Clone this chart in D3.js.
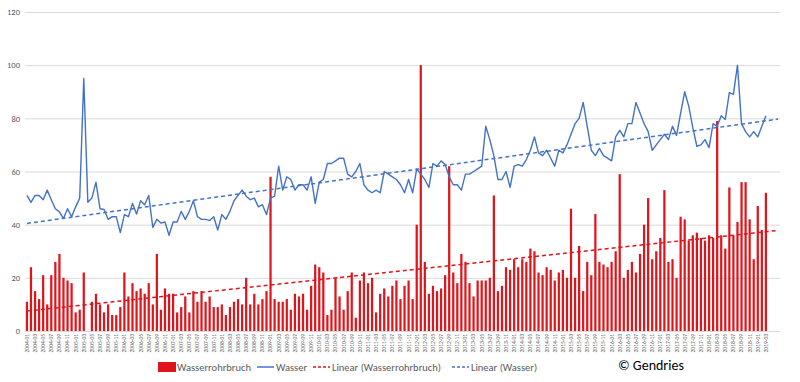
<!DOCTYPE html>
<html>
<head>
<meta charset="utf-8">
<script src="https://cdn.jsdelivr.net/npm/d3@7"></script>
<style>
  body { margin: 0; background: #fff; }
  text { font-family: Carlito, "Liberation Sans Narrow", Lato, sans-serif; }
</style>
</head>
<body>
<svg width="800" height="382"></svg>
<script>
// monthly counts, starting 2004-01
var wasserrohrbruch = [
  11,24,15,12,21,10,21,26,29,20,19,18,7,8,22,
  0,11,14,10,7,10,6,6,9,22,13,18,15,16,14,18,10,29,8,16,14,14,7,9,13,7,15,11,
  15,11,13,9,9,10,6,9,11,12,10,20,10,14,10,12,
  15,58,12,11,11,12,8,14,13,14,8,17,25,24,22,6,8,20,13,8,15,22,5,19,22,18,20,7,14,16,
  13,17,19,12,17,19,12,40,100,26,14,17,15,16,21,62,22,18,29,26,18,13,19,19,19,20,51,15,17,24,
  23,27,24,27,
  26,31,30,22,21,24,23,19,22,23,20,46,20,32,15,26,21,44,26,25,24,26,30,59,20,23,26,22,29,40,
  50,27,30,35,53,26,27,20,43,42,34,36,37,35,34,36,35,79,36,31,54,36,41,56,56,42,27,47,38,52
];
var wasser = [
  51,48.4,51,51,49.4,53,49.4,46,44.8,42.3,46,43,46.7,50,95,48.4,50,56,46,45.7,
  42,43,43,37,43.8,43,48,44,49,47.5,51,39,42,40.6,41,36,41,41,45,42,
  45,49,43,42,42,41.6,43,38,43.8,42,45,49,51,53,50.7,49.4,50,46.7,47.5,
  43.8,50,50.7,62,53,58,57,53,55,55,53,58,48,56,57,63,63,64,65,65,
  59,58,60,63,55,53,52,53,52,60,59,58,57,55,52,57,52,61,59,57,
  54,63,62,64,62.6,58,55,55,53,59,59,60,61,62,77,72,66,57,57,60,
  54,62,62.6,62,64.5,
  68,73,67,66,68,65,62,68,67,70,74,78,80,86,77,68,66,
  68.7,66,65,64,73,75.5,73,78,78,86,82,78,75,68,70,72,74,72,77,73.6,
  82,90,84.6,76.5,69.5,70,72,69,78,77,81,79.6,89.7,89,100,78,75,73,75,73,
  77,81
];
var startYear = 2004;
var emptyCats = 3;        // blank categories after the last month
var yTicks = [0, 20, 40, 60, 80, 100, 120];
var seriesNames = ["Wasserrohrbruch", "Wasser", "Linear (Wasserrohrbruch)", "Linear (Wasser)"];
var credit = "© Gendries";

var svg = d3.select("svg");
var red = "#e0141b", blue = "#4472c4", grey = "#595959";

var months = wasser.map(function (d, i) {
  return (startYear + Math.floor(i / 12)) + "-" + d3.format("02")(i % 12 + 1);
});
var cats = d3.range(months.length + emptyCats);

var x = d3.scaleBand().domain(cats).range([25, 780]).paddingInner(0.45).paddingOuter(0.2);
var y = d3.scaleLinear().domain([0, 120]).range([331, 12]);
var cx = function (i) { return x(i) + x.bandwidth() / 2; };

// gridlines
svg.append("g").selectAll("line")
  .data(yTicks)
  .enter().append("line")
  .attr("x1", 25).attr("x2", 780)
  .attr("y1", function (d) { return y(d) + 0.5; })
  .attr("y2", function (d) { return y(d) + 0.5; })
  .attr("stroke", "#d9d9d9").attr("stroke-width", 1);

// y labels
var yAxis = svg.append("g")
  .attr("transform", "translate(23,0)")
  .call(d3.axisLeft(y).tickValues(yTicks).tickSize(0).tickPadding(3));
yAxis.select(".domain").remove();
yAxis.selectAll("text").attr("fill", grey).style("font-size", "8.5px");

// x labels every 2nd month
var xAxis = svg.append("g")
  .attr("transform", "translate(0,331)")
  .call(d3.axisBottom(x)
    .tickValues(cats.filter(function (i) { return i < months.length && i % 2 === 0; }))
    .tickFormat(function (i) { return months[i]; })
    .tickSize(0).tickPadding(2));
xAxis.select(".domain").attr("stroke", "#d9d9d9");
xAxis.selectAll("text")
  .attr("fill", grey).style("font-size", "5.5px")
  .attr("text-anchor", "end")
  .attr("transform", "rotate(-90)")
  .attr("x", -3).attr("y", 0).attr("dy", "0.35em");

// bars
svg.append("g").selectAll("rect")
  .data(wasserrohrbruch)
  .enter().append("rect")
  .attr("x", function (d, i) { return x(i); })
  .attr("width", x.bandwidth())
  .attr("y", function (d) { return y(d); })
  .attr("height", function (d) { return y(0) - y(d); })
  .attr("fill", red);

// water line
svg.append("path")
  .datum(wasser)
  .attr("fill", "none").attr("stroke", blue).attr("stroke-width", 1.4)
  .attr("stroke-linejoin", "round")
  .attr("d", d3.line().x(function (d, i) { return cx(i); }).y(function (d) { return y(d); }));

// linear trends (least squares over month index)
function trend(values) {
  var n = values.length, mx = (n - 1) / 2, my = d3.mean(values);
  var sxy = 0, sxx = 0;
  values.forEach(function (v, i) { sxy += (i - mx) * (v - my); sxx += (i - mx) * (i - mx); });
  var b = sxy / sxx, a = my - b * mx;
  var last = cats.length - 1;
  return [[0, a], [last, a + b * last]];
}
[[wasserrohrbruch, red], [wasser, blue]].forEach(function (s) {
  svg.append("path")
    .datum(trend(s[0]))
    .attr("fill", "none").attr("stroke", s[1]).attr("stroke-width", 1.5)
    .attr("stroke-dasharray", "4,3")
    .attr("d", d3.line().x(function (d) { return cx(d[0]); }).y(function (d) { return y(d[1]); }));
});

// legend
var lg = svg.append("g").attr("transform", "translate(0,367)");
var items = [
  { x: 158, type: "rect", color: red },
  { x: 257, type: "line", color: blue },
  { x: 313, type: "dash", color: red },
  { x: 452, type: "dash", color: blue }
];
items.forEach(function (it, k) {
  if (it.type === "rect") {
    lg.append("rect").attr("x", it.x).attr("y", -5).attr("width", 18).attr("height", 10).attr("fill", it.color);
  } else {
    lg.append("line").attr("x1", it.x).attr("x2", it.x + 17).attr("y1", 0).attr("y2", 0)
      .attr("stroke", it.color).attr("stroke-width", 1.5)
      .attr("stroke-dasharray", it.type === "dash" ? "3,2" : null);
  }
  lg.append("text").attr("x", it.x + 19).attr("y", 0).attr("dy", "0.35em")
    .attr("fill", grey).style("font-size", "10.5px").text(seriesNames[k]);
});
lg.append("text").attr("x", 618).attr("y", -2).attr("dy", "0.35em")
  .attr("fill", "#000").style("font-size", "14px").text(credit);
</script>
</body>
</html>
